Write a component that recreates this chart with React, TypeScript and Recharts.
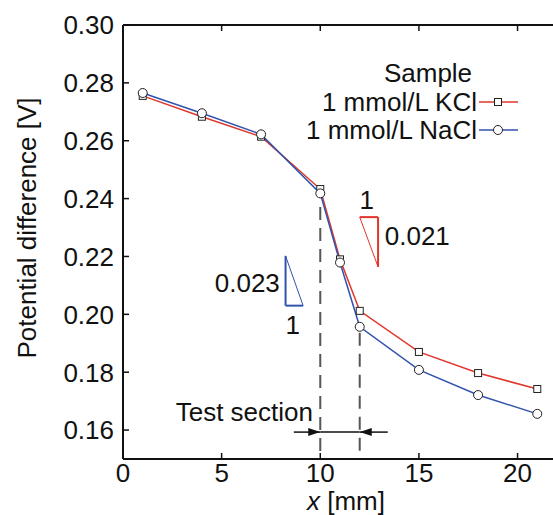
import React from 'react';
import {
  ComposedChart,
  Line,
  XAxis,
  YAxis,
  ReferenceLine,
  ReferenceDot,
  Legend,
} from 'recharts';

const X_VALUES = [1, 4, 7, 10, 11, 12, 15, 18, 21];
const KCL = [0.2755, 0.2683, 0.2614, 0.2433, 0.219, 0.2012, 0.187, 0.1797, 0.1742];
const NACL = [0.2765, 0.2695, 0.2622, 0.2418, 0.2179, 0.1957, 0.1808, 0.1721, 0.1656];
const SERIES_NAMES = ['1 mmol/L KCl', '1 mmol/L NaCl'];
const X_TICKS = [0, 5, 10, 15, 20];
const Y_TICKS = [0.16, 0.18, 0.2, 0.22, 0.24, 0.26, 0.28, 0.3];

const data = X_VALUES.map((x, i) => ({ x, kcl: KCL[i], nacl: NACL[i] }));

const FONT = '"Liberation Sans", Arial, sans-serif';
const FS = 26;
const RED = '#e0362c';
const BLUE = '#3153ad';

const SquareDot = (p: any) => {
  const { cx, cy } = p;
  if (cx == null || cy == null) return null;
  return <rect key={p.key} x={cx - 3.5} y={cy - 3.5} width={7} height={7} fill="#fff" stroke="#222" strokeWidth={1} />;
};
const CircleDot = (p: any) => {
  const { cx, cy } = p;
  if (cx == null || cy == null) return null;
  return <circle key={p.key} cx={cx} cy={cy} r={4.5} fill="#fff" stroke="#222" strokeWidth={1} />;
};

const LeftTick = (p: any) => (
  <g>
    <line x1={p.x} y1={p.y} x2={p.x + 6} y2={p.y} stroke="#111" strokeWidth={1.5} />
    <text x={p.x - 9} y={p.y} dy="0.36em" textAnchor="end" fontFamily={FONT} fontSize={FS} fill="#111">
      {Number(p.payload.value).toFixed(2)}
    </text>
  </g>
);
const RightTick = (p: any) => (
  <line x1={p.x - 6} y1={p.y} x2={p.x} y2={p.y} stroke="#111" strokeWidth={1.5} />
);
const BottomTick = (p: any) => (
  <g>
    <line x1={p.x} y1={p.y} x2={p.x} y2={p.y - 6} stroke="#111" strokeWidth={1.5} />
    <text x={p.x} y={p.y + 23} textAnchor="middle" fontFamily={FONT} fontSize={FS} fill="#111">
      {p.payload.value}
    </text>
  </g>
);
const TopTick = (p: any) => (
  <line x1={p.x} y1={p.y} x2={p.x} y2={p.y + 6} stroke="#111" strokeWidth={1.5} />
);

const ArrowShape = (p: any) => {
  const { x1, y1, x2, y2 } = p;
  const dir = x2 > x1 ? 1 : -1;
  const L = 12;
  const W = 4;
  return (
    <g>
      <line x1={x1} y1={y1} x2={x2} y2={y2} stroke="#111" strokeWidth={1.5} />
      <polygon
        points={`${x2},${y2} ${x2 - dir * L},${y2 - W} ${x2 - dir * L},${y2 + W}`}
        fill="#111"
      />
    </g>
  );
};

const makeText = (txt: string, anchor: string) => (p: any) => (
  <text x={p.cx} y={p.cy} dy="0.36em" textAnchor={anchor} fontFamily={FONT} fontSize={FS} fill="#111">
    {txt}
  </text>
);

const LegendContent = (props: any) => {
  const payload = props.payload || [];
  return (
    <svg width={260} height={95} style={{ display: 'block', overflow: 'visible' }}>
      <text x={128} y={23} dy="0.36em" textAnchor="middle" fontFamily={FONT} fontSize={FS} fill="#111">
        Sample
      </text>
      {payload.map((item: any, i: number) => {
        const y = 52 + i * 28;
        return (
          <g key={i}>
            <text x={177} y={y} dy="0.36em" textAnchor="end" fontFamily={FONT} fontSize={FS} fill="#111">
              {item.value}
            </text>
            <line x1={179} y1={y} x2={218} y2={y} stroke={item.color} strokeWidth={1.5} />
            {i === 0 ? (
              <rect x={198 - 3.5} y={y - 3.5} width={7} height={7} fill="#fff" stroke="#222" strokeWidth={1} />
            ) : (
              <circle cx={198} cy={y} r={4.5} fill="#fff" stroke="#222" strokeWidth={1} />
            )}
          </g>
        );
      })}
    </svg>
  );
};

const YLabel = (p: any) => {
  const vb = p.viewBox || { x: 0, y: 25, width: 123, height: 434 };
  const cx = vb.x + 27;
  const cy = vb.y + vb.height / 2 - 14;
  return (
    <text x={cx} y={cy} transform={`rotate(-90 ${cx} ${cy})`} textAnchor="middle" dy="0.36em" fontFamily={FONT} fontSize={FS} fill="#111">
      Potential difference [V]
    </text>
  );
};
const XLabel = (p: any) => {
  const vb = p.viewBox || { x: 123, y: 459, width: 434, height: 56 };
  const cx = vb.x + vb.width / 2 + 6;
  return (
    <text x={cx} y={vb.y + 51} textAnchor="middle" fontFamily={FONT} fontSize={FS} fill="#111">
      <tspan fontStyle="italic">x</tspan> [mm]
    </text>
  );
};

const axisLine = { stroke: '#111', strokeWidth: 2 };

export default function App() {
  return (
    <div style={{ position: 'absolute', left: 0, top: 0, width: 553, height: 515, overflow: 'hidden', background: '#fff' }}>
      <ComposedChart width={560} height={515} data={data} margin={{ top: 24, right: 2, bottom: 0, left: 0 }}>
        <XAxis
          xAxisId="b"
          dataKey="x"
          type="number"
          domain={[0, 22]}
          ticks={X_TICKS}
          orientation="bottom"
          height={56}
          tickSize={0}
          tickMargin={0}
          tickLine={false}
          axisLine={axisLine}
          tick={<BottomTick />}
          interval={0}
          label={{ content: <XLabel /> } as any}
        />
        <XAxis
          xAxisId="t"
          dataKey="x"
          type="number"
          domain={[0, 22]}
          ticks={X_TICKS}
          orientation="top"
          height={1}
          tickSize={0}
          tickMargin={0}
          tickLine={false}
          axisLine={axisLine}
          tick={<TopTick />}
          interval={0}
        />
        <YAxis
          yAxisId="l"
          type="number"
          domain={[0.15, 0.3]}
          ticks={Y_TICKS}
          width={123}
          tickSize={0}
          tickMargin={0}
          tickLine={false}
          axisLine={axisLine}
          tick={<LeftTick />}
          interval={0}
          label={{ content: <YLabel /> } as any}
        />
        <YAxis
          yAxisId="r"
          orientation="right"
          type="number"
          domain={[0.15, 0.3]}
          ticks={Y_TICKS}
          width={1}
          tickSize={0}
          tickMargin={0}
          tickLine={false}
          axisLine={axisLine}
          tick={<RightTick />}
          interval={0}
        />

        <ReferenceLine xAxisId="b" yAxisId="l" segment={[{ x: 10, y: 0.2371 }, { x: 10, y: 0.15 }]} stroke="#555" strokeWidth={2} strokeDasharray="13 8" />
        <ReferenceLine xAxisId="b" yAxisId="l" segment={[{ x: 12, y: 0.1936 }, { x: 12, y: 0.15 }]} stroke="#555" strokeWidth={2} strokeDasharray="13 8" />

        <ReferenceLine xAxisId="b" yAxisId="l" segment={[{ x: 8.66, y: 0.1593 }, { x: 10, y: 0.1593 }]} shape={<ArrowShape />} />
        <ReferenceLine xAxisId="b" yAxisId="l" segment={[{ x: 13.42, y: 0.1593 }, { x: 12, y: 0.1593 }]} shape={<ArrowShape />} />
        <ReferenceLine xAxisId="b" yAxisId="l" segment={[{ x: 10, y: 0.1593 }, { x: 12, y: 0.1593 }]} stroke="#111" strokeWidth={1.5} />

        <ReferenceLine xAxisId="b" yAxisId="l" segment={[{ x: 12.0, y: 0.2336 }, { x: 12.93, y: 0.2336 }]} stroke={RED} strokeWidth={2} />
        <ReferenceLine xAxisId="b" yAxisId="l" segment={[{ x: 12.93, y: 0.2336 }, { x: 12.93, y: 0.2164 }]} stroke={RED} strokeWidth={2} />
        <ReferenceLine xAxisId="b" yAxisId="l" segment={[{ x: 12.0, y: 0.2336 }, { x: 12.93, y: 0.2164 }]} stroke={RED} strokeWidth={1} />

        <ReferenceLine xAxisId="b" yAxisId="l" segment={[{ x: 8.24, y: 0.2202 }, { x: 8.24, y: 0.203 }]} stroke={BLUE} strokeWidth={2} />
        <ReferenceLine xAxisId="b" yAxisId="l" segment={[{ x: 8.24, y: 0.203 }, { x: 9.13, y: 0.203 }]} stroke={BLUE} strokeWidth={2} />
        <ReferenceLine xAxisId="b" yAxisId="l" segment={[{ x: 8.24, y: 0.2202 }, { x: 9.13, y: 0.203 }]} stroke={BLUE} strokeWidth={1} />

        <ReferenceDot xAxisId="b" yAxisId="l" x={12.36} y={0.2395} r={0} shape={makeText('1', 'middle')} />
        <ReferenceDot xAxisId="b" yAxisId="l" x={13.27} y={0.2271} r={0} shape={makeText('0.021', 'start')} />
        <ReferenceDot xAxisId="b" yAxisId="l" x={7.95} y={0.2108} r={0} shape={makeText('0.023', 'end')} />
        <ReferenceDot xAxisId="b" yAxisId="l" x={8.61} y={0.1963} r={0} shape={makeText('1', 'middle')} />
        <ReferenceDot xAxisId="b" yAxisId="l" x={9.63} y={0.1663} r={0} shape={makeText('Test section', 'end')} />

        <Line
          xAxisId="b"
          yAxisId="l"
          type="linear"
          dataKey="kcl"
          name={SERIES_NAMES[0]}
          stroke={RED}
          strokeWidth={1.5}
          dot={SquareDot}
          isAnimationActive={false}
        />
        <Line
          xAxisId="b"
          yAxisId="l"
          type="linear"
          dataKey="nacl"
          name={SERIES_NAMES[1]}
          stroke={BLUE}
          strokeWidth={1.5}
          dot={CircleDot}
          isAnimationActive={false}
        />
        <Legend
          layout="horizontal"
          verticalAlign="middle"
          align="center"
          content={<LegendContent />}
          wrapperStyle={{ left: 300, top: 50, width: 260, height: 95 }}
        />
      </ComposedChart>
    </div>
  );
}
